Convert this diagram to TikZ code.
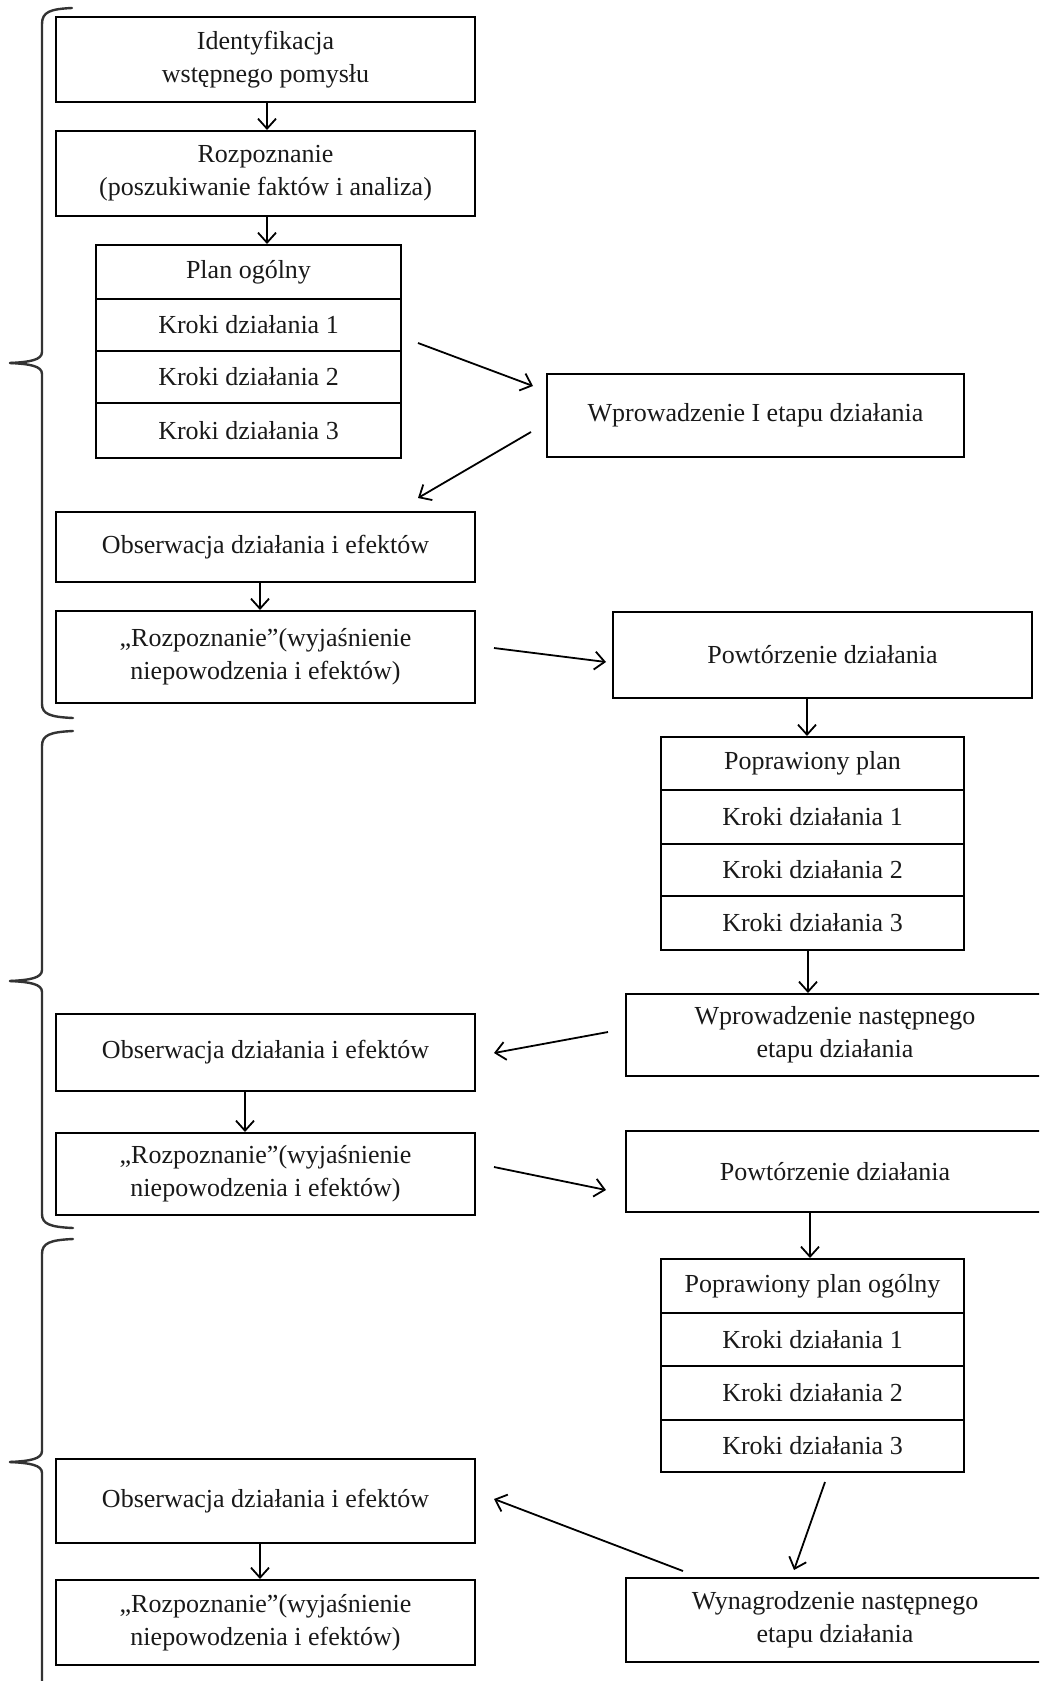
\documentclass[tikz,border=0pt]{standalone}
\usepackage{fontspec}
\setmainfont{Liberation Serif}
\usetikzlibrary{arrows.meta,calc}
\tikzset{
  box/.style={draw, line width=1pt, align=center, inner sep=0pt,
    font=\fontsize{13}{16.5}\selectfont, text=black!90},
  arr/.style={line width=0.9pt, -{Straight Barb[length=5pt,width=9pt,line width=0.9pt]}},
  brace/.style={line width=1.2pt, draw=black!80, line cap=round}
}
\begin{document}
\begin{tikzpicture}[x=0.5pt,y=-0.5pt]
\clip (0,0) rectangle (1039,1681);
\fill[white] (0,0) rectangle (1039,1681);

% --- left column, section 1
\node[box, minimum width=209.5pt, minimum height=42.5pt] (ident) at (265.5,59.5) {Identyfikacja\\wstępnego pomysłu};
\node[box, minimum width=209.5pt, minimum height=42.5pt] (rozp0) at (265.5,173.5) {Rozpoznanie\\(poszukiwanie faktów i analiza)};
\node[box, minimum width=152.5pt, minimum height=27pt] (plan) at (248.5,272) {Plan ogólny};
\node[box, minimum width=152.5pt, minimum height=26pt] (pk1) at (248.5,325) {Kroki działania 1};
\node[box, minimum width=152.5pt, minimum height=26pt] (pk2) at (248.5,377) {Kroki działania 2};
\node[box, minimum width=152.5pt, minimum height=27.5pt] (pk3) at (248.5,430.5) {Kroki działania 3};
\node[box, minimum width=208.5pt, minimum height=41.5pt] (wpr1) at (755.5,415.5) {Wprowadzenie I etapu działania};
\node[box, minimum width=209.5pt, minimum height=35pt] (obs1) at (265.5,547) {Obserwacja działania i efektów};
\node[box, minimum width=209.5pt, minimum height=46pt] (roz1) at (265.5,657) {„Rozpoznanie”(wyjaśnienie\\niepowodzenia i efektów)};
\node[box, minimum width=209.5pt, minimum height=43pt] (pow1) at (822.5,655) {Powtórzenie działania};

% --- section 2
\node[box, minimum width=151.5pt, minimum height=26.5pt] (popr) at (812.5,763.5) {Poprawiony plan};
\node[box, minimum width=151.5pt, minimum height=27pt] (rk1) at (812.5,817) {Kroki działania 1};
\node[box, minimum width=151.5pt, minimum height=26pt] (rk2) at (812.5,870) {Kroki działania 2};
\node[box, minimum width=151.5pt, minimum height=27pt] (rk3) at (812.5,923) {Kroki działania 3};
\node[box, minimum width=209pt, minimum height=41pt] (wprn) at (835,1035) {Wprowadzenie następnego\\etapu działania};
\node[box, minimum width=209.5pt, minimum height=38.5pt] (obs2) at (265.5,1052.5) {Obserwacja działania i efektów};
\node[box, minimum width=209.5pt, minimum height=41pt] (roz2) at (265.5,1174) {„Rozpoznanie”(wyjaśnienie\\niepowodzenia i efektów)};
\node[box, minimum width=209pt, minimum height=40.5pt] (pow2) at (835,1171.5) {Powtórzenie działania};

% --- section 3
\node[box, minimum width=151.5pt, minimum height=27pt] (popr3) at (812.5,1286) {Poprawiony plan ogólny};
\node[box, minimum width=151.5pt, minimum height=26.5pt] (sk1) at (812.5,1339.5) {Kroki działania 1};
\node[box, minimum width=151.5pt, minimum height=27pt] (sk2) at (812.5,1393) {Kroki działania 2};
\node[box, minimum width=151.5pt, minimum height=26pt] (sk3) at (812.5,1446) {Kroki działania 3};
\node[box, minimum width=209.5pt, minimum height=42pt] (obs3) at (265.5,1501) {Obserwacja działania i efektów};
\node[box, minimum width=209.5pt, minimum height=42.5pt] (roz3) at (265.5,1622.5) {„Rozpoznanie”(wyjaśnienie\\niepowodzenia i efektów)};
\node[box, minimum width=209pt, minimum height=42pt] (wyn) at (835,1620) {Wynagrodzenie następnego\\etapu działania};

% --- vertical arrows
\coordinate (v1) at ($(ident.south)+(1.5,0)$);
\draw[arr] (v1) -- (v1 |- rozp0.north);
\coordinate (v2) at ($(rozp0.south)+(1.5,0)$);
\draw[arr] (v2) -- (v2 |- plan.north);
\coordinate (v3) at ($(obs1.south)+(-5.5,0)$);
\draw[arr] (v3) -- (v3 |- roz1.north);
\coordinate (v4) at ($(pow1.south)+(-15.5,0)$);
\draw[arr] (v4) -- (v4 |- popr.north);
\coordinate (v5) at ($(rk3.south)+(-4.5,0)$);
\draw[arr] (v5) -- (v5 |- wprn.north);
\coordinate (v6) at ($(obs2.south)+(-20.5,0)$);
\draw[arr] (v6) -- (v6 |- roz2.north);
\coordinate (v7) at ($(pow2.south)+(-25,0)$);
\draw[arr] (v7) -- (v7 |- popr3.north);
\coordinate (v8) at ($(obs3.south)+(-5.5,0)$);
\draw[arr] (v8) -- (v8 |- roz3.north);

% --- diagonal arrows (free ends)
\coordinate (a1s) at (418,343);  \coordinate (a1e) at (533,386);
\coordinate (a2s) at (531,432);  \coordinate (a2e) at (418,498);
\coordinate (a3s) at (494,648);  \coordinate (a3e) at (606,662);
\coordinate (a4s) at (608,1032); \coordinate (a4e) at (494,1053);
\coordinate (a5s) at (494,1167); \coordinate (a5e) at (606,1190);
\coordinate (a6s) at (825,1482); \coordinate (a6e) at (794,1570);
\coordinate (a7s) at (683,1571); \coordinate (a7e) at (494,1499);
\draw[arr] (a1s) -- (a1e);
\draw[arr] (a2s) -- (a2e);
\draw[arr] (a3s) -- (a3e);
\draw[arr] (a4s) -- (a4e);
\draw[arr] (a5s) -- (a5e);
\draw[arr] (a6s) -- (a6e);
\draw[arr] (a7s) -- (a7e);

% --- braces
\draw[brace] (72,8) .. controls (50,9) and (42,12) .. (42,24) -- (42,352)
  .. controls (42,360) and (30,362) .. (10,363);
\draw[brace] (10,363) .. controls (30,364) and (42,366) .. (42,374) -- (42,704)
  .. controls (42,714) and (50,717) .. (73,718);
\draw[brace] (73,731) .. controls (50,732) and (42,735) .. (42,746) -- (42,970)
  .. controls (42,978) and (30,980) .. (10,981);
\draw[brace] (10,981) .. controls (30,982) and (42,984) .. (42,992) -- (42,1214)
  .. controls (42,1224) and (50,1227) .. (73,1228);
\draw[brace] (73,1239) .. controls (50,1240) and (42,1243) .. (42,1254) -- (42,1451)
  .. controls (42,1459) and (30,1461) .. (10,1462);
\draw[brace] (10,1462) .. controls (30,1463) and (42,1465) .. (42,1473) -- (42,1695);
\end{tikzpicture}
\end{document}
